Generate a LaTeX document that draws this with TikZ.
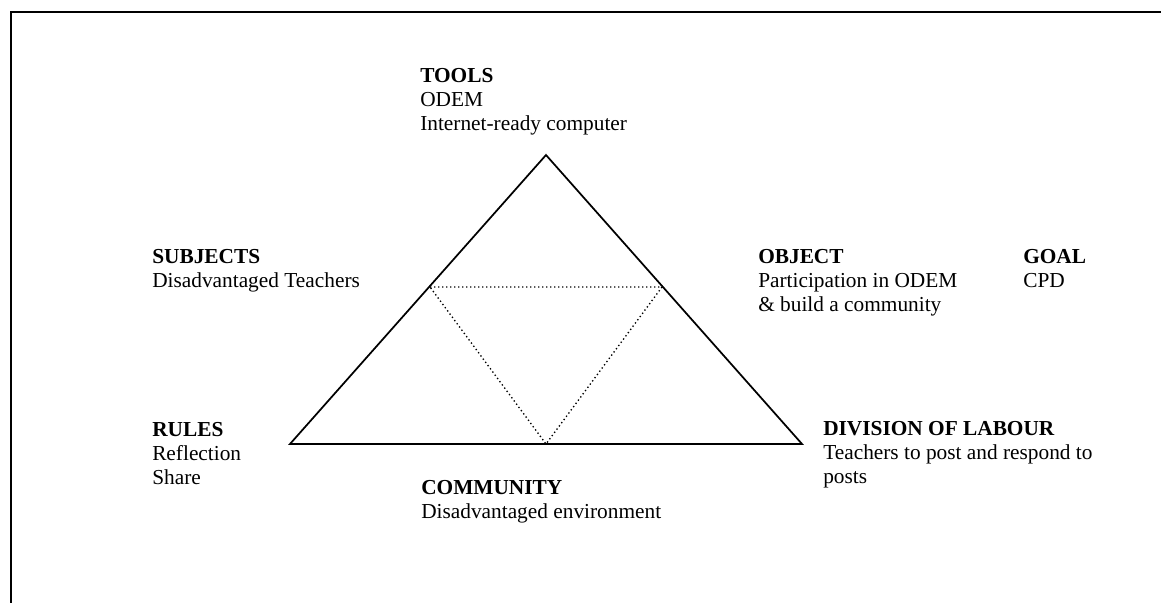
\documentclass[tikz,border=0pt]{standalone}
\usepackage{fontspec}
\setmainfont{Liberation Serif}
\usetikzlibrary{positioning}

\tikzset{
  label/.style={anchor=north west, align=left, inner sep=0pt,
    font=\fontsize{16}{17.8}\selectfont},
  side/.style={line width=1.3pt},
  inner/.style={dotted, line width=1pt}
}

\begin{document}
\begin{tikzpicture}[x=0.75pt, y=-0.75pt]
      \useasboundingbox (0,0) rectangle (1161,603);
      % frame
      \coordinate (f0) at (11,603);
      \coordinate (f1) at (11,12);
      \coordinate (f2) at (1161,12);
      \draw[line width=1.6pt] (f0) -- (f1) -- (f2);
      % triangle
      \coordinate (a) at (546,155);
      \coordinate (b) at (290,444);
      \coordinate (c) at (802,444);
      \coordinate (d) at (430,287);
      \coordinate (e) at (662,287);
      \coordinate (f) at (546,444);
      \draw[side] (a) -- (b) -- (c) -- cycle;
      \draw[inner] (d) -- (e) -- (f) -- cycle;
      % labels
      \node[label] (tools) at (420,68.5) {\textbf{TOOLS}\\ODEM\\Internet-ready computer};
      \node[label] (subjects) at (152,249.5) {\textbf{SUBJECTS}\\Disadvantaged Teachers};
      \node[label] (object) at (758,249.5) {\textbf{OBJECT}\\Participation in ODEM\\\& build a community};
      \node[label] (goal) at (1023,249.5) {\textbf{GOAL}\\CPD};
      \node[label] (rules) at (152,422.5) {\textbf{RULES}\\Reflection\\Share};
      \node[label] (labour) at (823,421.5) {\textbf{DIVISION OF LABOUR}\\Teachers to post and respond to\\posts};
      \node[label] (community) at (421,480.5) {\textbf{COMMUNITY}\\Disadvantaged environment};
    \end{tikzpicture}
\end{document}
